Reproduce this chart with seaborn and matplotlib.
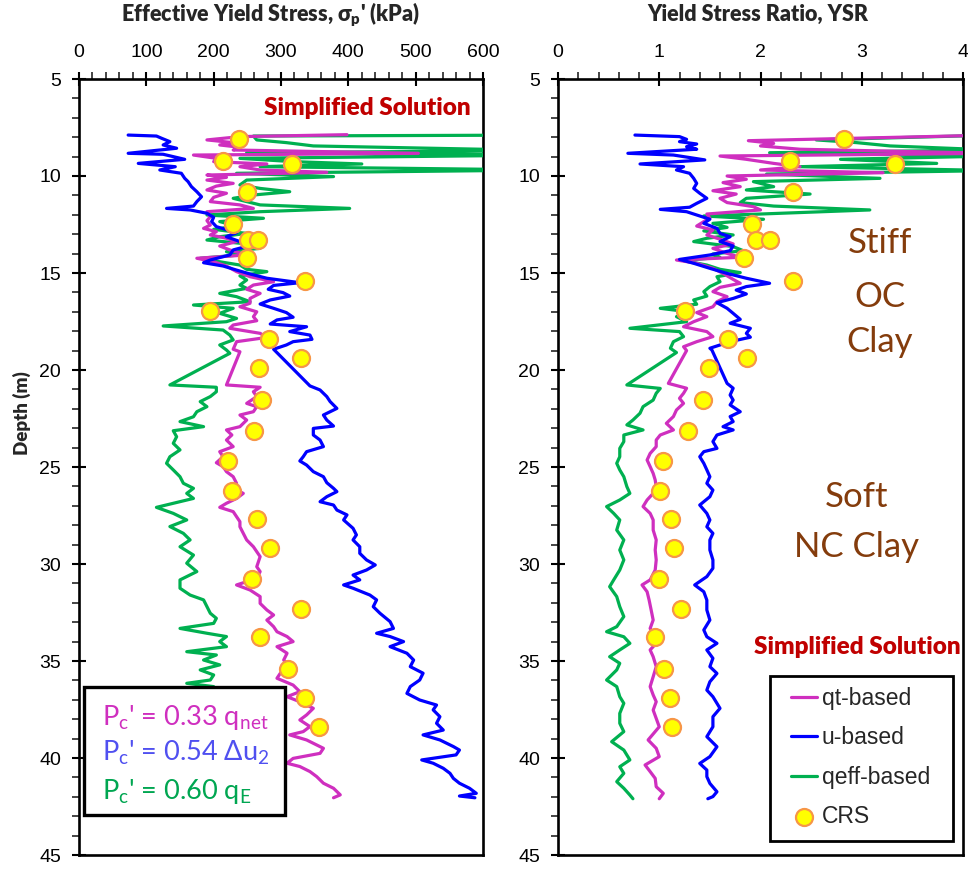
import matplotlib
matplotlib.use("Agg")
import matplotlib.pyplot as plt
from matplotlib.ticker import MultipleLocator
from matplotlib.patches import Rectangle
import seaborn as sns

# ---------------- Effective yield stress profiles (kPa) ----------------
depth_u_kpa = [7.89, 7.94, 8.06, 8.23, 8.40, 8.57, 8.83, 8.88, 9.14, 9.35, 9.52, 9.69, 9.86, 10.12,
               10.29, 10.55, 10.81, 11.07, 11.32, 11.55, 11.67, 11.75, 11.92, 12.13, 12.35, 12.61,
               12.92, 13.13, 13.38, 13.61, 13.81, 14.07, 14.33, 14.47, 14.64, 14.85, 15.05, 15.27,
               15.50, 15.64, 15.84, 16.01, 16.19, 16.39, 16.60, 16.82, 17.04, 17.28, 17.42, 17.63,
               17.77, 18.02, 18.20, 18.42, 18.54, 18.71, 18.93, 20.82, 21.03, 21.37, 21.63, 21.98,
               22.32, 22.58, 22.89, 23.01, 23.35, 23.61, 23.95, 24.21, 24.47, 24.69, 24.90, 25.24,
               25.50, 25.81, 26.10, 26.27, 26.53, 26.79, 26.96, 27.22, 27.47, 27.73, 28.16, 28.50,
               28.76, 29.11, 29.45, 29.79, 30.05, 30.31, 30.57, 30.82, 31.08, 31.25, 31.60, 31.85,
               32.20, 32.54, 32.97, 33.32, 33.57, 33.74, 34.00, 34.26, 34.60, 34.95, 35.29, 35.63,
               35.98, 36.32, 36.67, 37.01, 37.27, 37.52, 37.87, 38.21, 38.56, 38.81, 39.07, 39.41,
               39.59, 39.84, 40.10, 40.27, 40.53, 40.79, 41.05, 41.30, 41.56, 41.82, 41.96, 42.05]
u_based_kpa = [73, 115, 123, 135, 125, 145, 73, 125, 157, 88, 143, 120, 152, 157,
               162, 167, 175, 182, 175, 170, 130, 165, 190, 200, 197, 204,
               234, 219, 239, 251, 229, 224, 195, 185, 214, 234, 254, 279,
               328, 289, 281, 303, 313, 284, 269, 289, 308, 318, 294, 284,
               338, 313, 343, 346, 318, 308, 289, 343, 358, 368, 373, 383,
               363, 368, 378, 348, 348, 358, 363, 338, 333, 328, 338, 348,
               363, 368, 378, 383, 368, 358, 378, 383, 398, 393, 407, 412,
               407, 417, 417, 427, 440, 427, 407, 417, 393, 407, 432, 442,
               437, 447, 462, 467, 442, 462, 482, 462, 487, 497, 492, 511,
               506, 492, 487, 506, 531, 526, 536, 531, 541, 511, 536, 556,
               565, 560, 509, 526, 541, 551, 556, 565, 580, 590, 565, 588]

depth_qt_kpa = [7.87, 7.97, 8.14, 8.28, 8.40, 8.52, 8.66, 8.83, 8.92, 9.09, 9.26, 9.38, 9.52, 9.69,
                9.81, 9.95, 10.07, 10.21, 10.38, 10.52, 10.72, 10.89, 11.10, 11.32, 11.49, 11.67,
                11.84, 12.10, 12.30, 12.53, 12.70, 12.87, 13.04, 13.21, 13.38, 13.61, 13.81, 14.07,
                14.24, 14.42, 14.64, 14.93, 15.19, 15.45, 15.62, 15.84, 16.05, 16.31, 16.56, 16.74,
                17.00, 17.25, 17.46, 17.68, 17.85, 18.11, 18.32, 18.54, 18.93, 19.06, 20.77, 20.89,
                21.12, 21.37, 21.72, 21.89, 22.15, 22.32, 22.58, 22.92, 23.09, 23.35, 23.61, 23.95,
                24.21, 24.47, 24.78, 24.98, 25.24, 25.50, 25.84, 26.10, 26.36, 26.62, 26.87, 27.08,
                27.30, 27.56, 27.82, 28.08, 28.42, 28.76, 29.11, 29.62, 30.14, 30.39, 30.74, 31.08,
                31.34, 31.68, 32.03, 32.37, 32.63, 32.89, 33.23, 33.49, 33.74, 34.00, 34.26, 34.60,
                34.95, 35.29, 35.63, 35.89, 36.24, 36.58, 36.84, 37.10, 37.44, 37.78, 38.04, 38.38,
                38.64, 38.81, 39.07, 39.50, 39.76, 40.02, 40.27, 40.44, 40.70, 40.96, 41.30, 41.56,
                41.73, 41.90, 42.05]
qt_based_kpa = [398, 239, 190, 229, 209, 239, 229, 504, 170, 204, 200, 279, 239, 269,
                368, 190, 219, 190, 229, 204, 190, 219, 200, 195, 239, 259,
                190, 195, 190, 195, 185, 204, 195, 219, 234, 209, 224, 249,
                175, 200, 219, 234, 254, 289, 259, 249, 269, 254, 254, 239,
                264, 259, 264, 229, 224, 269, 279, 234, 229, 239, 219, 269,
                259, 264, 249, 264, 259, 239, 249, 239, 219, 227, 219, 229,
                209, 214, 204, 214, 219, 229, 234, 229, 244, 234, 219, 209,
                229, 234, 239, 239, 244, 249, 259, 269, 264, 269, 264, 234,
                254, 269, 269, 279, 289, 279, 289, 294, 309, 318, 294, 309,
                304, 313, 299, 294, 318, 328, 309, 328, 348, 338, 328, 343,
                333, 313, 338, 363, 358, 318, 309, 328, 343, 353, 363, 378,
                383, 388, 378]

depth_qe_kpa = [7.89, 7.94, 8.14, 8.28, 8.45, 8.69, 8.80, 8.92, 9.09, 9.26, 9.38, 9.52, 9.69, 9.86,
                10.03, 10.21, 10.46, 10.64, 10.81, 10.98, 11.15, 11.32, 11.49, 11.67, 11.84, 12.01,
                12.18, 12.35, 12.58, 12.75, 12.96, 13.13, 13.30, 13.50, 13.73, 13.90, 14.07, 14.24,
                14.42, 14.59, 14.81, 14.93, 15.15, 15.36, 15.62, 15.79, 16.05, 16.22, 16.48, 16.65,
                16.82, 17.08, 17.34, 17.51, 17.73, 17.94, 18.20, 18.45, 18.71, 18.97, 19.14, 20.77,
                20.89, 21.12, 21.37, 21.63, 21.89, 22.15, 22.41, 22.66, 22.92, 23.13, 23.44, 23.78,
                24.12, 24.47, 24.81, 25.15, 25.50, 25.84, 26.10, 26.36, 26.62, 26.87, 27.08, 27.39,
                27.73, 28.07, 28.42, 28.76, 29.11, 29.54, 29.96, 30.39, 30.82, 31.25, 31.60, 31.85,
                32.20, 32.54, 32.80, 33.06, 33.32, 33.57, 33.74, 34.00, 34.26, 34.52, 34.69, 34.95,
                35.20, 35.46, 35.72, 35.98, 36.15, 36.32, 36.70, 37.10, 37.50, 37.90, 38.30, 38.70,
                39.10, 39.50, 39.90, 40.30, 40.70, 41.10, 41.50, 41.90, 42.05]
qeff_based_kpa = [700, 259, 264, 308, 348, 700, 249, 700, 239, 318, 420, 269, 700, 234,
                  378, 249, 239, 269, 313, 259, 229, 249, 269, 402, 269, 190,
                  274, 209, 234, 200, 249, 209, 190, 249, 269, 219, 239, 180,
                  209, 239, 249, 279, 239, 249, 239, 249, 209, 234, 254, 170,
                  229, 209, 234, 219, 125, 214, 224, 229, 209, 219, 224, 135,
                  204, 204, 195, 180, 190, 175, 170, 150, 185, 140, 145, 140,
                  150, 135, 130, 140, 150, 155, 170, 160, 170, 140, 115, 140,
                  160, 135, 155, 165, 150, 170, 160, 175, 150, 150, 165, 185,
                  190, 195, 204, 200, 150, 190, 219, 209, 219, 160, 204, 185,
                  209, 180, 200, 195, 160, 200, 190, 205, 195, 210, 200, 215,
                  185, 210, 225, 200, 215, 205, 220, 235, 240]

# ---------------- Yield stress ratio profiles ----------------
depth_u_ysr = [7.89, 7.97, 8.11, 8.23, 8.35, 8.49, 8.62, 8.83, 8.92, 9.17, 9.38, 9.52, 9.69, 9.86,
               10.12, 10.38, 10.64, 10.89, 11.15, 11.41, 11.61, 11.72, 11.84, 12.01, 12.23, 12.44,
               12.70, 12.96, 13.13, 13.38, 13.61, 13.85, 14.07, 14.30, 14.50, 14.76, 15.02, 15.27,
               15.53, 15.70, 15.88, 16.08, 16.31, 16.53, 16.82, 17.08, 17.39, 17.59, 17.85, 18.11,
               18.31, 18.54, 18.88, 18.97, 20.69, 20.94, 21.29, 21.55, 21.80, 22.15, 22.40, 22.66,
               22.92, 23.09, 23.35, 23.69, 24.04, 24.21, 24.47, 24.81, 25.15, 25.50, 25.84, 26.19,
               26.53, 26.96, 27.39, 27.73, 28.08, 28.42, 28.76, 29.28, 29.79, 30.22, 30.65, 31.08,
               31.43, 31.86, 32.37, 32.89, 33.40, 33.75, 34.09, 34.43, 34.86, 35.29, 35.64, 36.07,
               36.50, 36.84, 37.44, 37.87, 38.39, 38.90, 39.42, 39.93, 40.28, 40.62, 40.96, 41.31,
               41.74, 41.99, 42.10]
u_based_ysr = [0.76, 1.20, 1.27, 1.20, 1.37, 1.27, 1.37, 0.69, 1.14, 1.45, 0.81, 1.24, 1.17, 1.30,
               1.34, 1.37, 1.34, 1.40, 1.47, 1.37, 1.30, 1.01, 1.27, 1.37, 1.50, 1.44,
               1.57, 1.60, 1.70, 1.60, 1.73, 1.70, 1.50, 1.20, 1.34, 1.50, 1.67, 1.86,
               2.09, 1.86, 1.76, 1.86, 1.73, 1.57, 1.67, 1.73, 1.80, 1.70, 1.90, 1.86,
               1.90, 1.70, 1.50, 1.52, 1.67, 1.73, 1.70, 1.73, 1.70, 1.80, 1.70, 1.73,
               1.63, 1.73, 1.57, 1.53, 1.57, 1.44, 1.40, 1.44, 1.47, 1.50, 1.47, 1.53,
               1.50, 1.40, 1.47, 1.50, 1.47, 1.53, 1.50, 1.50, 1.53, 1.53, 1.47, 1.35,
               1.44, 1.47, 1.47, 1.50, 1.44, 1.47, 1.57, 1.47, 1.53, 1.50, 1.57, 1.50,
               1.47, 1.53, 1.60, 1.53, 1.53, 1.47, 1.57, 1.50, 1.40, 1.47, 1.47, 1.50,
               1.57, 1.53, 1.48]

depth_qt_ysr = [7.89, 8.18, 8.32, 8.45, 8.62, 8.83, 8.97, 9.14, 9.35, 9.52, 9.69, 9.83, 10.00, 10.17,
                10.34, 10.55, 10.76, 10.93, 11.15, 11.37, 11.58, 11.75, 11.96, 12.18, 12.35, 12.58,
                12.78, 13.04, 13.26, 13.50, 13.73, 13.99, 14.19, 14.33, 14.50, 14.76, 15.02, 15.33,
                15.53, 15.74, 15.96, 16.22, 16.48, 16.74, 17.04, 17.25, 17.51, 17.77, 18.02, 18.28,
                18.54, 18.80, 19.00, 20.69, 20.94, 21.20, 21.46, 21.72, 22.06, 22.40, 22.75, 23.09,
                23.35, 23.61, 23.95, 24.30, 24.64, 24.98, 25.33, 25.67, 26.01, 26.36, 26.70, 27.04,
                27.39, 27.73, 28.25, 28.76, 29.28, 29.79, 30.31, 30.82, 31.08, 31.43, 31.86, 32.37,
                32.89, 33.32, 33.57, 34.09, 34.43, 34.78, 35.29, 35.81, 36.32, 36.75, 37.10, 37.53,
                37.96, 38.39, 39.07, 39.50, 39.93, 40.36, 40.70, 41.05, 41.48, 41.82, 42.10]
qt_based_ysr = [4.30, 1.88, 2.13, 2.00, 2.39, 4.30, 1.60, 1.86, 2.13, 2.39, 2.00, 3.21, 1.67, 1.86,
                1.63, 1.80, 1.53, 1.76, 1.60, 1.67, 1.93, 2.00, 1.47, 1.50, 1.44, 1.37,
                1.53, 1.47, 1.60, 1.73, 1.53, 1.67, 1.80, 1.17, 1.37, 1.53, 1.63, 1.73,
                1.80, 1.60, 1.53, 1.67, 1.57, 1.53, 1.37, 1.47, 1.34, 1.24, 1.47, 1.53,
                1.37, 1.24, 1.27, 1.09, 1.27, 1.24, 1.20, 1.24, 1.17, 1.14, 1.07, 1.14,
                1.01, 0.97, 0.97, 0.91, 0.88, 0.91, 0.94, 0.96, 0.97, 0.94, 0.88, 0.84,
                0.91, 0.94, 0.94, 0.97, 0.96, 0.97, 0.96, 0.91, 0.83, 0.88, 0.90, 0.92,
                0.94, 0.91, 0.94, 0.97, 0.91, 0.94, 0.97, 0.94, 0.91, 0.94, 0.97, 0.94,
                0.97, 1.00, 0.89, 0.97, 1.00, 0.86, 0.91, 0.96, 0.97, 1.04, 1.00]

depth_qe_ysr = [7.89, 8.14, 8.28, 8.45, 8.66, 8.80, 8.97, 9.14, 9.35, 9.52, 9.72, 9.90, 10.12, 10.29,
                10.55, 10.72, 10.93, 11.15, 11.37, 11.55, 11.75, 11.96, 12.06, 12.23, 12.44, 12.65,
                12.83, 13.04, 13.21, 13.38, 13.64, 13.85, 14.02, 14.19, 14.36, 14.59, 14.81, 14.98,
                15.19, 15.45, 15.70, 15.96, 16.19, 16.39, 16.61, 16.82, 16.99, 17.25, 17.51, 17.85,
                18.02, 18.28, 18.54, 18.88, 19.10, 20.77, 20.95, 21.20, 21.55, 21.89, 22.23, 22.58,
                22.83, 23.09, 23.35, 23.69, 24.04, 24.47, 24.81, 25.15, 25.50, 26.01, 26.36, 26.70,
                27.04, 27.39, 27.73, 28.25, 28.76, 29.28, 29.79, 30.31, 30.82, 31.17, 31.68, 32.20,
                32.71, 33.23, 33.49, 33.75, 34.09, 34.43, 34.78, 35.12, 35.46, 35.98, 36.32, 36.84,
                37.18, 37.70, 38.21, 38.64, 39.16, 39.59, 40.10, 40.45, 40.79, 41.22, 41.56, 41.91,
                42.10]
qeff_based_ysr = [4.30, 2.55, 2.95, 3.28, 4.30, 2.09, 4.30, 2.79, 3.74, 2.39, 4.30, 2.06, 3.18, 1.93,
                  2.13, 1.86, 2.49, 1.86, 1.80, 2.13, 3.08, 2.00, 1.44, 2.03, 1.53, 1.67,
                  1.44, 1.73, 1.47, 1.34, 1.73, 1.83, 1.53, 1.60, 1.24, 1.47, 1.60, 1.80,
                  1.57, 1.60, 1.50, 1.44, 1.47, 1.34, 1.37, 1.01, 1.27, 1.17, 1.27, 0.71,
                  1.20, 1.24, 1.14, 1.11, 1.17, 0.68, 1.01, 0.97, 0.94, 0.84, 0.81, 0.74,
                  0.68, 0.84, 0.65, 0.65, 0.61, 0.61, 0.58, 0.61, 0.65, 0.68, 0.71, 0.61,
                  0.48, 0.55, 0.61, 0.58, 0.65, 0.61, 0.65, 0.61, 0.55, 0.51, 0.58, 0.61,
                  0.65, 0.58, 0.48, 0.65, 0.71, 0.61, 0.51, 0.61, 0.58, 0.48, 0.58, 0.61,
                  0.65, 0.61, 0.61, 0.65, 0.53, 0.65, 0.71, 0.61, 0.65, 0.58, 0.65, 0.71,
                  0.74]

# ---------------- CRS laboratory results ----------------
crs_depth = [8.10, 9.25, 9.40, 10.80, 12.45, 13.30, 13.30, 14.25, 15.40, 16.95, 18.40, 19.40, 19.90,
             21.55, 23.15, 24.70, 26.25, 27.70, 29.20, 30.75, 32.30, 33.75, 35.40, 36.90, 38.40]
crs_sigma_p = [238, 214, 316, 249, 229, 251, 266, 249, 335, 195, 282, 329, 268,
               272, 260, 222, 227, 265, 284, 257, 329, 269, 310, 336, 356]
crs_ysr = [2.82, 2.29, 3.33, 2.32, 1.92, 1.96, 2.09, 1.84, 2.32, 1.25, 1.68, 1.87, 1.49,
           1.43, 1.28, 1.04, 1.01, 1.12, 1.15, 1.00, 1.21, 0.96, 1.05, 1.11, 1.13]

series_labels = ["qt-based", "u-based", "qeff-based", "CRS"]
sigma_ticks = [0, 100, 200, 300, 400, 500, 600]
ysr_ticks = [0, 1, 2, 3, 4]
depth_ticks = [5, 10, 15, 20, 25, 30, 35, 40, 45]

# ---------------- style ----------------
sns.set_style("white")
plt.rcParams["font.family"] = ["Lato", "DejaVu Sans"]
plt.rcParams["axes.linewidth"] = 1.9

C_QT = "#CF2FBF"
C_U = "#0000FF"
C_QE = "#00B050"
C_CRS_FACE = "#FFFF00"
C_CRS_EDGE = "#F79646"
C_RED = "#C00000"
C_BROWN = "#843C0C"
LW = 2.3

W, H = 968, 869
fig = plt.figure(figsize=(W / 100, H / 100), dpi=100)
ax1 = fig.add_axes([79 / W, 1 - 855 / H, 404 / W, 776 / H])
ax2 = fig.add_axes([558 / W, 1 - 855 / H, 405 / W, 776 / H])


def style_axis(ax, xticks, xminor):
    ax.set_ylim(45, 5)
    ax.set_xlim(xticks[0], xticks[-1])
    ax.set_xticks(xticks)
    ax.set_yticks(depth_ticks)
    ax.xaxis.set_minor_locator(MultipleLocator(xminor))
    ax.yaxis.set_minor_locator(MultipleLocator(1))
    ax.xaxis.tick_top()
    ax.tick_params(which="both", top=True, bottom=False, left=True, right=False,
                   labeltop=True, labelbottom=False, labelleft=True, labelright=False)
    ax.tick_params(which="major", direction="inout", length=10, width=1.5,
                   labelsize=14, labelfontfamily="Liberation Sans", pad=8, colors="black")
    ax.tick_params(which="minor", direction="out", length=5, width=1.2)
    ax.set_xlabel("")
    ax.set_ylabel("")
    for s in ax.spines.values():
        s.set_color("black")
        s.set_linewidth(1.9)


def draw_profiles(ax, pairs, crs_x, with_labels):
    for (d, v, c, lab) in pairs:
        sns.lineplot(x=v, y=d, ax=ax, color=c, lw=LW, sort=False, estimator=None,
                     label=lab if with_labels else None, legend=with_labels, zorder=3)
    sns.scatterplot(x=crs_x, y=crs_depth, ax=ax, s=150, color=C_CRS_FACE,
                    edgecolor=C_CRS_EDGE, linewidth=1.6, zorder=5,
                    label=series_labels[3] if with_labels else None, legend=with_labels)


draw_profiles(ax1, [(depth_qe_kpa, qeff_based_kpa, C_QE, series_labels[2]),
                    (depth_qt_kpa, qt_based_kpa, C_QT, series_labels[0]),
                    (depth_u_kpa, u_based_kpa, C_U, series_labels[1])],
              crs_sigma_p, False)
draw_profiles(ax2, [(depth_qe_ysr, qeff_based_ysr, C_QE, series_labels[2]),
                    (depth_qt_ysr, qt_based_ysr, C_QT, series_labels[0]),
                    (depth_u_ysr, u_based_ysr, C_U, series_labels[1])],
              crs_ysr, True)

style_axis(ax1, sigma_ticks, 20)
style_axis(ax2, ysr_ticks, 0.2)

# axis titles
fig.text(271 / W, 1 - 14 / H, "Effective Yield Stress, σ$\\mathregular{_p}$' (kPa)",
         ha="center", va="center", fontsize=15.5, fontweight="heavy")
fig.text(758 / W, 1 - 14 / H, "Yield Stress Ratio, YSR",
         ha="center", va="center", fontsize=15.5, fontweight="heavy")
fig.text(22 / W, 1 - 413 / H, "Depth (m)", rotation=90, ha="center", va="center",
         fontsize=13.5, fontweight="heavy")

# annotations
ax1.text(0.97, 0.963, "Simplified Solution", transform=ax1.transAxes, ha="right",
         va="center", fontsize=17.5, fontweight="heavy", color=C_RED)
ax2.text(0.995, 0.268, "Simplified Solution", transform=ax2.transAxes, ha="right",
         va="center", fontsize=17.5, fontweight="heavy", color=C_RED)
for txt, yy, xx in [("Stiff", 243, 880), ("OC", 297, 880), ("Clay", 342, 880),
                    ("Soft", 497, 857), ("NC Clay", 547, 857)]:
    fig.text(xx / W, 1 - yy / H, txt, ha="center", va="center", fontsize=25, color=C_BROWN)

# correlation box
box = Rectangle((0.0124, 0.0515), 0.4975, 0.165, transform=ax1.transAxes,
                facecolor="white", edgecolor="black", linewidth=2.4, zorder=8)
ax1.add_patch(box)
for txt, yy, c in [("P$\\mathregular{_c}$' = 0.33 q$\\mathregular{_{net}}$", 717, C_QT),
                   ("P$\\mathregular{_c}$' = 0.54 Δu$\\mathregular{_2}$", 753, "#5050F0"),
                   ("P$\\mathregular{_c}$' = 0.60 q$\\mathregular{_E}$", 792, "#00A651")]:
    fig.text(102 / W, 1 - yy / H, txt, ha="left", va="center", fontsize=19.5, color=c,
             zorder=9)

# legend: drawn without its own frame, inside a fixed rectangle
leg_frame = Rectangle((0.5235, 0.018), 0.4519, 0.2126, transform=ax2.transAxes,
                      facecolor="white", edgecolor="black", linewidth=2.0, zorder=9)
ax2.add_patch(leg_frame)
h, l = ax2.get_legend_handles_labels()
order = [l.index(n) for n in series_labels]
leg = ax2.legend([h[i] for i in order], [l[i] for i in order], loc="upper left",
                 bbox_to_anchor=(0.575, 0.2165), borderaxespad=0, frameon=False,
                 prop={"family": "Liberation Sans", "size": 16.5},
                 handlelength=1.15, handletextpad=0.2, labelspacing=0.72,
                 borderpad=0)
leg.set_zorder(10)

fig.savefig("out.png", dpi=100)
